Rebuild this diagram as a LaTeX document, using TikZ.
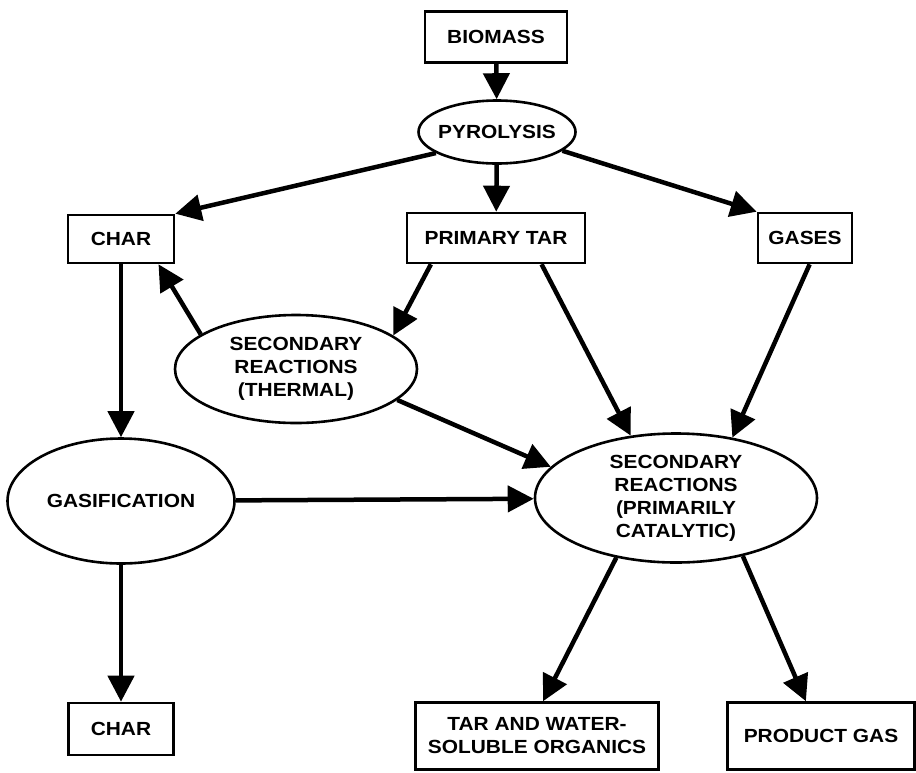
\documentclass[tikz,border=0pt]{standalone}
\usepackage{fontspec}
\setmainfont{Liberation Sans}[FakeStretch=1.1]
\usepackage{tikz}
\usetikzlibrary{arrows.meta}
\usetikzlibrary{shapes}

\tikzset{
  box/.style={draw, line width=2.6pt, inner sep=0pt, align=center,
    font=\bfseries\fontsize{19}{23}\selectfont},
  oval/.style={ellipse, box},
  flow/.style={line width=4.5pt, -{Triangle[length=26pt,width=26pt]}}
}

\begin{document}
\begin{tikzpicture}[x=1pt,y=-1pt]
\useasboundingbox (0,0) rectangle (916,772);
\node [box, minimum width=142pt, minimum height=51pt] (biomass) at (496,37) {BIOMASS};
\node [oval, minimum width=157pt, minimum height=63pt, inner xsep=-14pt] (pyro) at (497,132) {PYROLYSIS};
\node [box, minimum width=106pt, minimum height=48pt] (char1) at (121,239) {CHAR};
\node [box, minimum width=178pt, minimum height=50pt] (ptar) at (496,238) {PRIMARY TAR};
\node [box, minimum width=94pt, minimum height=50pt] (gases) at (805,238) {GASES};
\node [oval, minimum width=242pt, minimum height=108pt] (thermal) at (296,369)
  {SECONDARY\\REACTIONS\\(THERMAL)};
\node [oval, minimum width=227pt, minimum height=125pt] (gasif) at (121,501) {GASIFICATION};
\node [oval, minimum width=282pt, minimum height=129pt] (cat) at (676,498)
  {SECONDARY\\REACTIONS\\(PRIMARILY\\CATALYTIC)};
\node [box, minimum width=105pt, minimum height=52pt] (char2) at (121,729) {CHAR};
\node [box, minimum width=243pt, minimum height=67pt] (tar) at (537,736)
  {TAR AND WATER-\\SOLUBLE ORGANICS};
\node [box, minimum width=187pt, minimum height=67pt] (prod) at (821,736) {PRODUCT GAS};

\draw [flow] (biomass) -- (pyro);
\draw [flow] (pyro.199) -- (char1.north east);
\draw [flow] (pyro) -- (ptar);
\draw [flow] (pyro.-16) -- (gases.north west);
\draw [flow] (char1) -- (gasif);
\draw [flow] (thermal.160) -- (char1.-34);
\draw [flow] (ptar.202) -- (thermal.19);
\draw [flow] (ptar.-30) -- (cat.126);
\draw [flow] (gases.-80) -- (cat.47);
\draw [flow] (thermal.-17) -- (cat.166);
\draw [flow] (gasif) -- (cat);
\draw [flow] (gasif) -- (char2);
\draw [flow] (cat.225) -- (tar.80);
\draw [flow] (cat.-41) -- (prod);
\end{tikzpicture}
\end{document}
